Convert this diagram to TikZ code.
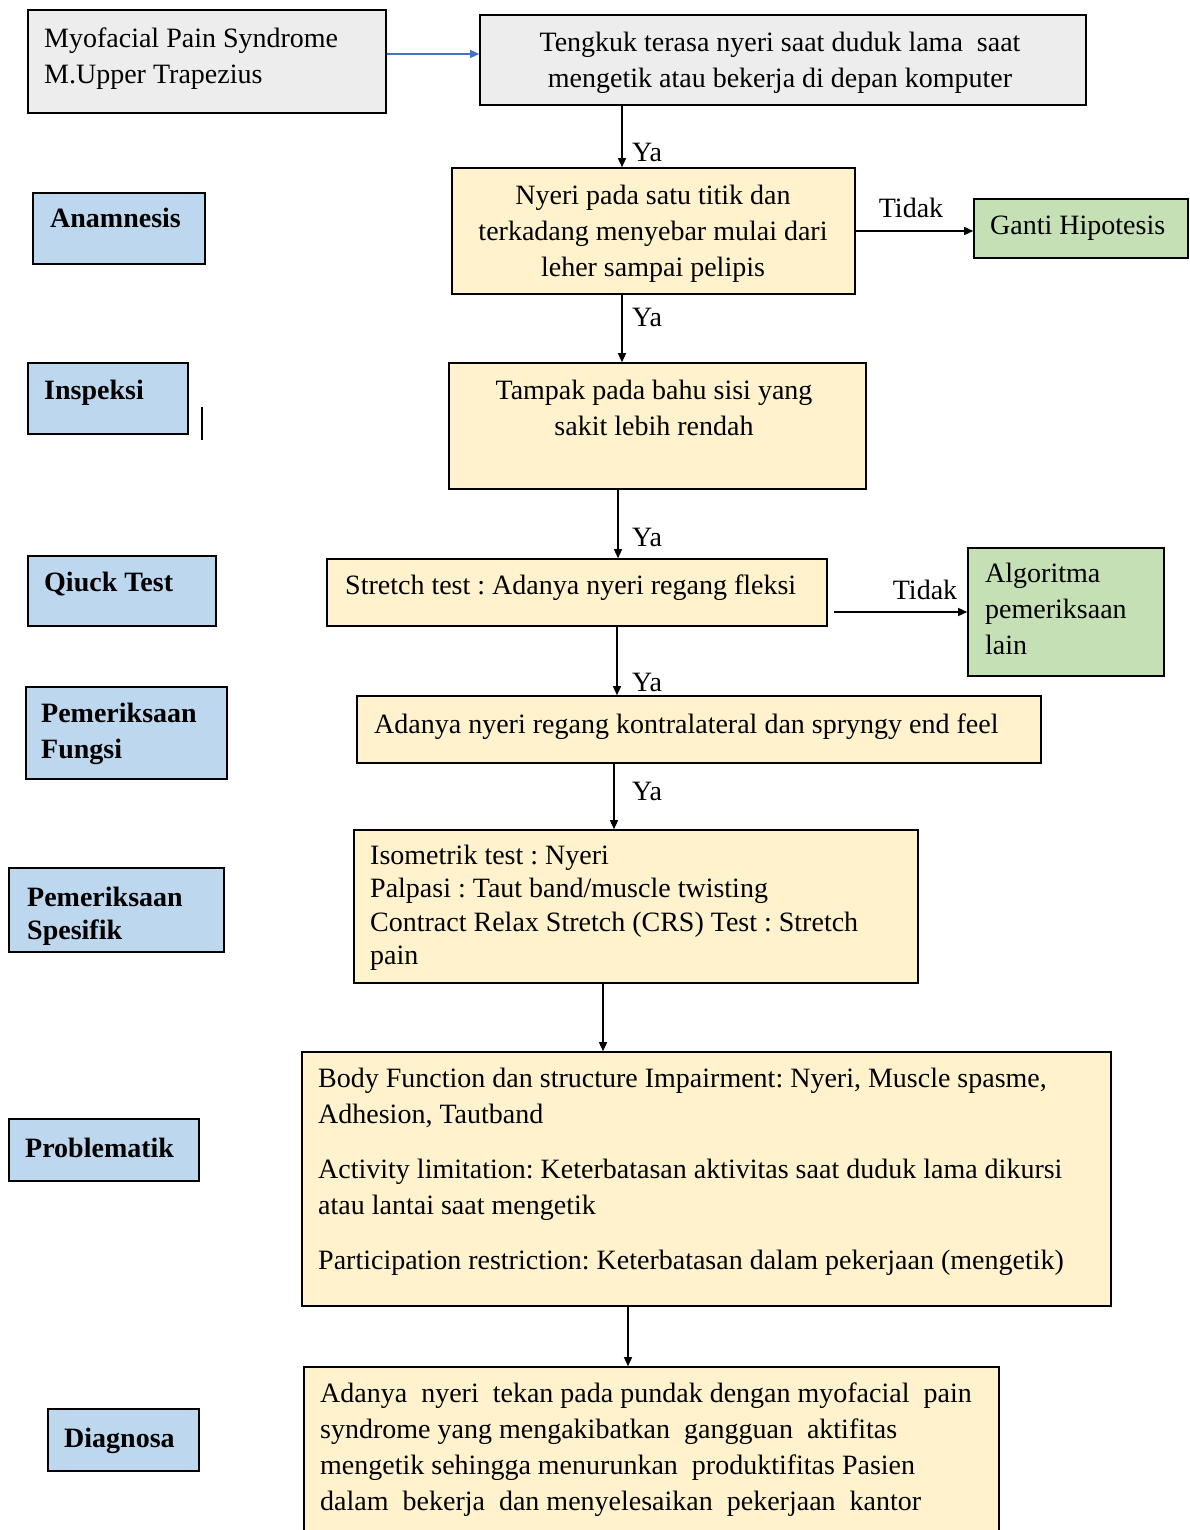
\documentclass[tikz,border=0pt]{standalone}
\usepackage{fontspec}
\setmainfont{Liberation Serif}
\usetikzlibrary{arrows.meta,fit,calc}
\definecolor{gbox}{HTML}{EDEDED}
\definecolor{ybox}{HTML}{FFF2CC}
\definecolor{grbox}{HTML}{C5E0B4}
\definecolor{lblue}{HTML}{BDD7EE}
\definecolor{arrblue}{HTML}{4472C4}
\frenchspacing
\begin{document}
\begin{tikzpicture}[x=1pt,y=-1pt,
  frame/.style={draw=black, line width=1.6pt, inner sep=0pt},
  txt/.style={inner sep=0pt, font=\fontsize{28}{36}\selectfont},
  lbl/.style={inner sep=0pt, font=\fontsize{28}{36}\selectfont\bfseries},
  arr/.style={line width=1.4pt, -{Triangle[length=9pt,width=8pt]}},
]
\useasboundingbox (0,0) rectangle (1189,1530);
\clip (0,0) rectangle (1189,1530);

% main boxes
\node[frame, fill=gbox, fit={(28,10) (386,113)}] (myo) {};
\node[frame, fill=gbox, fit={(480,15) (1086,105)}] (teng) {};
\node[frame, fill=ybox, fit={(452,168) (855,294)}] (nyeri) {};
\node[frame, fill=grbox, fit={(974,199) (1188,258)}] (ganti) {};
\node[frame, fill=ybox, fit={(449,363) (866,489)}] (tampak) {};
\node[frame, fill=ybox, fit={(327,559) (827,626)}] (stretch) {};
\node[frame, fill=grbox, fit={(968,548) (1164,676)}] (algo) {};
\node[frame, fill=ybox, fit={(357,696) (1041,763)}] (adanya) {};
\node[frame, fill=ybox, fit={(354,830) (918,983)}] (iso) {};
\node[frame, fill=ybox, fit={(302,1052) (1111,1306)}] (prob) {};
\node[frame, fill=ybox, fit={(304,1367) (999,1560)}] (diag) {};

% left label boxes
\node[frame, fill=lblue, fit={(33,193) (205,264)}] (anam) {};
\node[frame, fill=lblue, fit={(28,363) (188,434)}] (insp) {};
\node[frame, fill=lblue, fit={(28,556) (216,626)}] (qt) {};
\node[frame, fill=lblue, fit={(26,687) (227,779)}] (pf) {};
\node[frame, fill=lblue, fit={(9,868) (224,952)}] (ps) {};
\node[frame, fill=lblue, fit={(9,1119) (199,1181)}] (pr) {};
\node[frame, fill=lblue, fit={(48,1409) (199,1471)}] (dg) {};

% texts
\node[txt, anchor=north west, align=left] (myoT) at (44,28) {Myofacial Pain Syndrome\\M.Upper Trapezius};
\node[txt, anchor=north, align=center] (tengT) at (780,32) {Tengkuk terasa nyeri saat duduk lama~ saat\\mengetik atau bekerja di depan komputer};
\node[txt, anchor=north, align=center] (nyeriT) at (653,185) {Nyeri pada satu titik dan\\terkadang menyebar mulai dari\\leher sampai pelipis};
\node[txt, anchor=north west, align=left] (gantiT) at (990,216) {Ganti Hipotesis};
\node[txt, anchor=north, align=center] (tampakT) at (654,380) {Tampak pada bahu sisi yang\\sakit lebih rendah};
\node[txt, anchor=north west, align=left] (stretchT) at (345,575) {Stretch test : Adanya nyeri regang fleksi};
\node[txt, anchor=north west, align=left] (algoT) at (985,563) {Algoritma\\pemeriksaan\\lain};
\node[txt, anchor=north west, align=left] (adanyaT) at (374,714) {Adanya nyeri regang kontralateral dan spryngy end feel};
\node[txt, anchor=north west, align=left, font=\fontsize{28}{33.3}\selectfont] (isoT) at (370,845) {Isometrik test : Nyeri\\Palpasi : Taut band/muscle twisting\\Contract Relax Stretch (CRS) Test : Stretch\\pain};
\node[txt, anchor=north west, align=left] (probT) at (318,1068) {Body Function dan structure Impairment: Nyeri, Muscle spasme,\\Adhesion, Tautband\\[19pt]Activity limitation: Keterbatasan aktivitas saat duduk lama dikursi\\atau lantai saat mengetik\\[19pt]Participation restriction: Keterbatasan dalam pekerjaan (mengetik)};
\node[txt, anchor=north west, align=left] (diagT) at (320,1383) {Adanya~ nyeri~ tekan pada pundak dengan myofacial~ pain\\syndrome yang mengakibatkan~ gangguan~ aktifitas\\mengetik sehingga menurunkan~ produktifitas Pasien\\dalam~ bekerja~ dan menyelesaikan~ pekerjaan~ kantor};

\node[lbl, anchor=north west, align=left] (anamT) at (50,208) {Anamnesis};
\node[lbl, anchor=north west, align=left] (inspT) at (44,380) {Inspeksi};
\node[lbl, anchor=north west, align=left] (qtT) at (44,572) {Qiuck Test};
\node[lbl, anchor=north west, align=left] (pfT) at (41,703) {Pemeriksaan\\Fungsi};
\node[lbl, anchor=north west, align=left, font=\fontsize{28}{33.3}\selectfont\bfseries] (psT) at (27,887) {Pemeriksaan\\Spesifik};
\node[lbl, anchor=north west, align=left] (prT) at (25,1138) {Problematik};
\node[lbl, anchor=north west, align=left] (dgT) at (64,1428) {Diagnosa};

% stray mark
\draw[line width=1.4pt] (202,407) -- (202,440);

% helper coordinates
\coordinate (yb) at (0,54);
\coordinate (xa) at (622,0);
\coordinate (xb) at (618,0);
\coordinate (xc) at (617,0);
\coordinate (xd) at (614,0);
\coordinate (xe) at (603,0);
\coordinate (xf) at (628,0);

% connectors
\draw[line width=1.4pt, arrblue, -{Triangle[length=9pt,width=8pt]}] (myo.east |- yb) -- (teng.west |- yb);
\draw[arr] (teng.south -| xa) -- (nyeri.north -| xa);
\draw[arr] (nyeri.south -| xa) -- (tampak.north -| xa);
\draw[arr] (tampak.south -| xb) -- (stretch.north -| xb);
\draw[arr] (stretch.south -| xc) -- (adanya.north -| xc);
\draw[arr] (adanya.south -| xd) -- (iso.north -| xd);
\draw[arr] (iso.south -| xe) -- (prob.north -| xe);
\draw[arr] (prob.south -| xf) -- (diag.north -| xf);
\draw[arr] (nyeri.east) -- (nyeri.east -| ganti.west);
\draw[arr] ($(stretch.east |- algo.west)+(6,0)$) -- (algo.west);

% connector labels
\node[txt, anchor=west] (ya1) at (632,152) {Ya};
\node[txt, anchor=west] (ya2) at (632,317) {Ya};
\node[txt, anchor=west] (ya3) at (632,537) {Ya};
\node[txt, anchor=west] (ya4) at (632,682) {Ya};
\node[txt, anchor=west] (ya5) at (632,791) {Ya};
\node[txt, anchor=center] (tidak1) at (911,208) {Tidak};
\node[txt, anchor=center] (tidak2) at (925,590) {Tidak};
\end{tikzpicture}
\end{document}
